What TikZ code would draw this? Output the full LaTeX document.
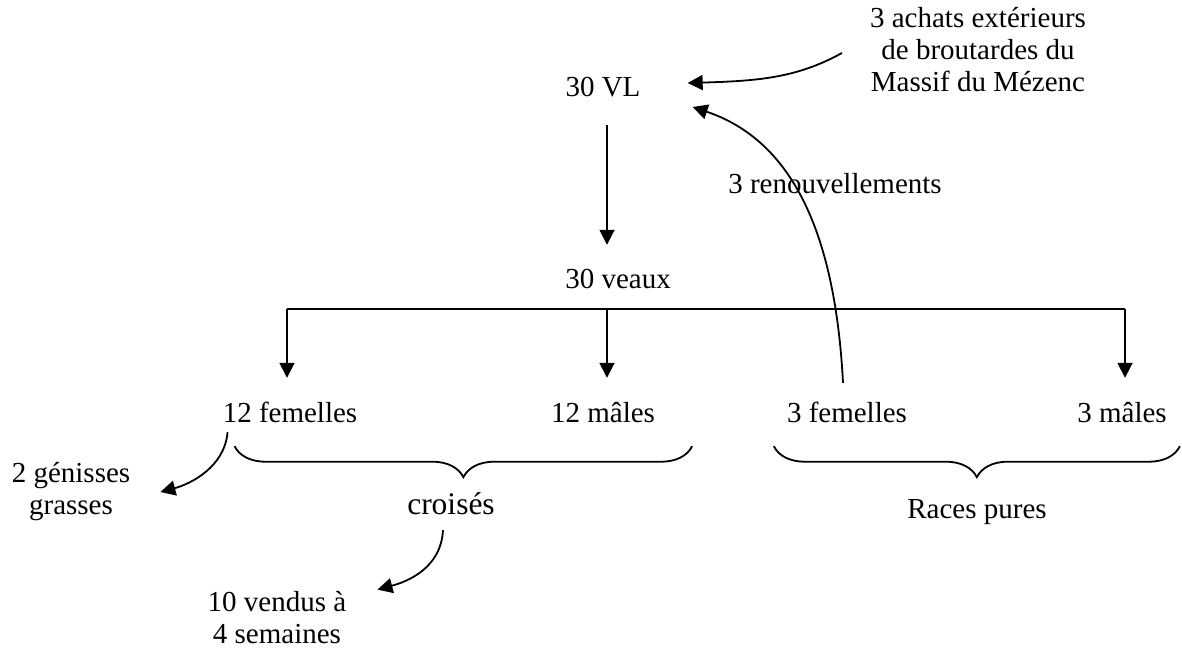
\documentclass[tikz,border=0pt]{standalone}
\usepackage{fontspec}
\setmainfont{Liberation Serif}
\usepackage{tikz}
\usetikzlibrary{arrows.meta,decorations.pathreplacing,calc}

\begin{document}
\begin{tikzpicture}[
    x=1pt, y=-1pt,
    lbl/.style={inner sep=0pt, text height=20pt, text depth=7pt, anchor=base, font=\fontsize{29}{33}\selectfont},
    blk/.style={inner sep=0pt, align=center, font=\fontsize{29}{32}\selectfont},
    arr/.style={line width=1.8pt, -{Triangle[length=15pt, width=15pt]}},
    brc/.style={line width=1.8pt, decorate, decoration={brace, mirror, amplitude=31pt}}
]
\useasboundingbox (0,0) rectangle (1182,650);

\node[blk] (achats) at (978, 50) {3 achats extérieurs\\de broutardes du\\Massif du Mézenc};
\node[lbl] (vl) at (603, 97) {30 VL};
\node[lbl] (renouv) at (835, 193) {3 renouvellements};
\node[lbl] (veaux) at (618, 288) {30 veaux};

\node[lbl] (f12) at (290, 422) {12 femelles};
\node[lbl] (m12) at (603, 422) {12 mâles};
\node[lbl] (f3) at (847, 422) {3 femelles};
\node[lbl] (m3) at (1122, 422) {3 mâles};

\node[blk] (genisses) at (71, 492) {2 génisses\\grasses};
\node[lbl, font=\fontsize{31.5}{36}\selectfont] (croises) at (451, 514) {croisés};
\node[lbl] (races) at (977, 518) {Races pures};
\node[blk] (vendus) at (277, 618) {10 vendus à\\4 semaines};

\coordinate (split) at ($(vl.base)+(4,212)$);

\draw[arr] ($(vl.south -| split)+(0,21)$) -- ($(veaux.north -| split)+(0,-23)$);
\draw[line width=1.8pt] ($(split -| f12.north)+(-3,0)$) -- ($(split -| m3.north)+(3,0)$);
\draw[arr] ($(split -| f12.north)+(-3,0)$) -- ($(f12.north)+(-3,-24)$);
\draw[arr] (split) -- ($(m12.north -| split)+(0,-24)$);
\draw[arr] ($(split -| m3.north)+(3,0)$) -- ($(m3.north)+(3,-24)$);

\draw[arr] ($(achats.west)+(-28,3)$) .. controls +(-45,25) and +(70,-2) .. ($(vl.base east)+(47,-14)$);
\draw[arr] ($(f3.north)+(-4,-19)$) .. controls +(-8,-153) and +(98,33) .. ($(vl.base east)+(52,10)$);

\draw[arr] ($(f12.south west)+(5,3)$) .. controls +(-3,35) and +(30,-8) .. ($(genisses.east)+(30,0)$);
\draw[arr] ($(croises.south)+(-8,9)$) .. controls +(-2,38) and +(30,-8) .. ($(vendus.north east)+(31,-2)$);

\draw[brc] ($(f12.south west)+(12,17)$) -- ($(m12.south east)+(37,17)$);
\draw[brc] ($(f3.south west)+(-13,17)$) -- ($(m3.south east)+(13,17)$);
\end{tikzpicture}
\end{document}
